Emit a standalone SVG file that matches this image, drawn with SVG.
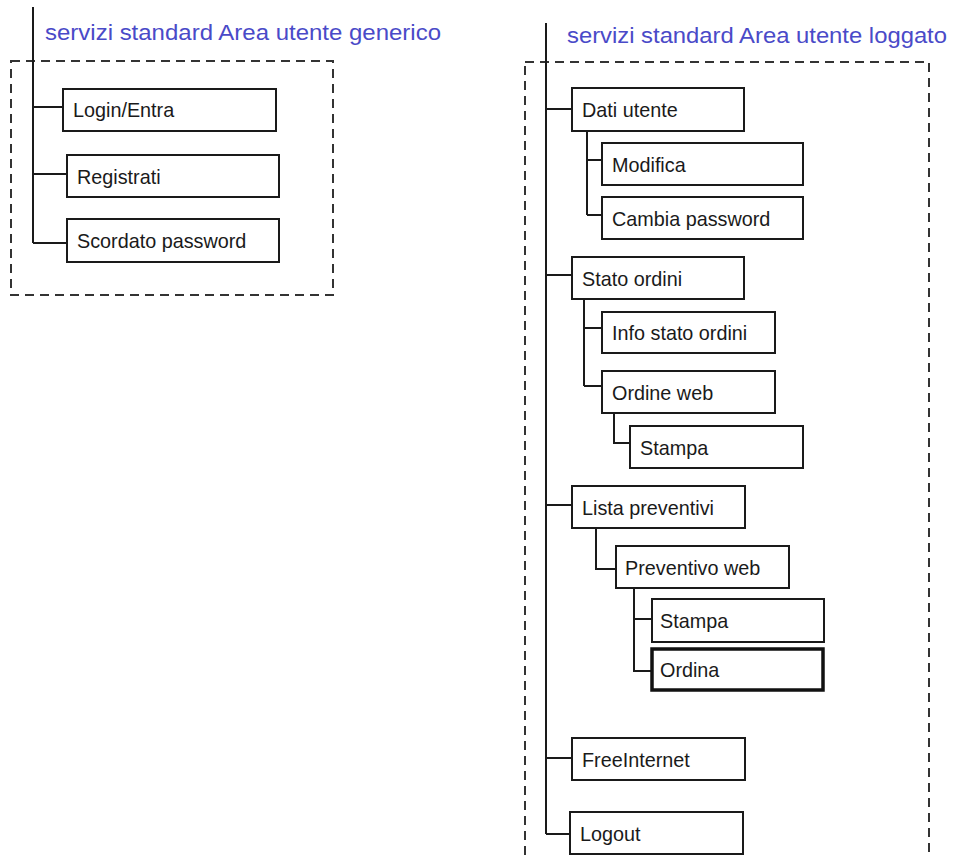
<svg xmlns="http://www.w3.org/2000/svg" width="955" height="856" viewBox="0 0 955 856">
<style>
.box{fill:#fff;stroke:#1a1a1a;stroke-width:2}
.bold{fill:#fff;stroke:#111;stroke-width:3.5}
.lbl{font-family:"Liberation Sans",Arial,sans-serif;font-size:19.8px;fill:#1a1a1a}
.ttl{font-family:"Liberation Sans",Arial,sans-serif;font-size:22px;fill:#4a4ac8}
.area{fill:none;stroke:#333;stroke-width:2;stroke-dasharray:9,6}
.con{fill:none;stroke:#1a1a1a;stroke-width:2}
</style>
<rect width="955" height="856" fill="#fff"/>
<rect class="area" x="11" y="61" width="322" height="234"/>
<rect class="area" x="525" y="62" width="404" height="810"/>
<text class="ttl" x="45" y="40" textLength="396" lengthAdjust="spacingAndGlyphs">servizi standard Area utente generico</text>
<text class="ttl" x="567" y="43" textLength="380" lengthAdjust="spacingAndGlyphs">servizi standard Area utente loggato</text>
<g id="connectors">
<path class="con" d="M33 7V243M33 107H63M33 174H67M33 243H67"/>
<path class="con" d="M546 23V834M546 109H572M546 275H572M546 505H572M546 758H572M546 834H570"/>
<path class="con" d="M587 131V215M587 160H602M587 215H602"/>
<path class="con" d="M584 299V386M584 328H602M584 386H602"/>
<path class="con" d="M614 413V443H630"/>
<path class="con" d="M596 528V569H616"/>
<path class="con" d="M634 588V671H651M634 619H652"/>
</g>
<g id="login"><rect class="box" x="63" y="89" width="213" height="42"/><text class="lbl" x="73" y="117">Login/Entra</text></g>
<g id="registrati"><rect class="box" x="67" y="155" width="212" height="42"/><text class="lbl" x="77" y="184">Registrati</text></g>
<g id="scordato"><rect class="box" x="67" y="219" width="212" height="43"/><text class="lbl" x="77" y="248">Scordato password</text></g>
<g id="dati"><rect class="box" x="572" y="88" width="172" height="43"/><text class="lbl" x="582" y="117">Dati utente</text></g>
<g id="modifica"><rect class="box" x="602" y="143" width="201" height="42"/><text class="lbl" x="612" y="172">Modifica</text></g>
<g id="cambia"><rect class="box" x="602" y="197" width="201" height="42"/><text class="lbl" x="612" y="226">Cambia password</text></g>
<g id="stato"><rect class="box" x="572" y="257" width="172" height="42"/><text class="lbl" x="582" y="286">Stato ordini</text></g>
<g id="info"><rect class="box" x="602" y="312" width="173" height="41"/><text class="lbl" x="612" y="340">Info stato ordini</text></g>
<g id="ordineweb"><rect class="box" x="602" y="371" width="173" height="42"/><text class="lbl" x="612" y="400">Ordine web</text></g>
<g id="stampa1"><rect class="box" x="630" y="426" width="173" height="42"/><text class="lbl" x="640" y="455">Stampa</text></g>
<g id="lista"><rect class="box" x="572" y="486" width="173" height="42"/><text class="lbl" x="582" y="515">Lista preventivi</text></g>
<g id="preventivo"><rect class="box" x="616" y="546" width="173" height="42"/><text class="lbl" x="625" y="575">Preventivo web</text></g>
<g id="stampa2"><rect class="box" x="652" y="599" width="172" height="43"/><text class="lbl" x="660" y="628">Stampa</text></g>
<g id="ordina"><rect class="bold" x="652" y="649" width="171" height="41"/><text class="lbl" x="660" y="677">Ordina</text></g>
<g id="freeinternet"><rect class="box" x="572" y="738" width="173" height="42"/><text class="lbl" x="582" y="767">FreeInternet</text></g>
<g id="logout"><rect class="box" x="570" y="812" width="173" height="42"/><text class="lbl" x="580" y="841">Logout</text></g>
</svg>
